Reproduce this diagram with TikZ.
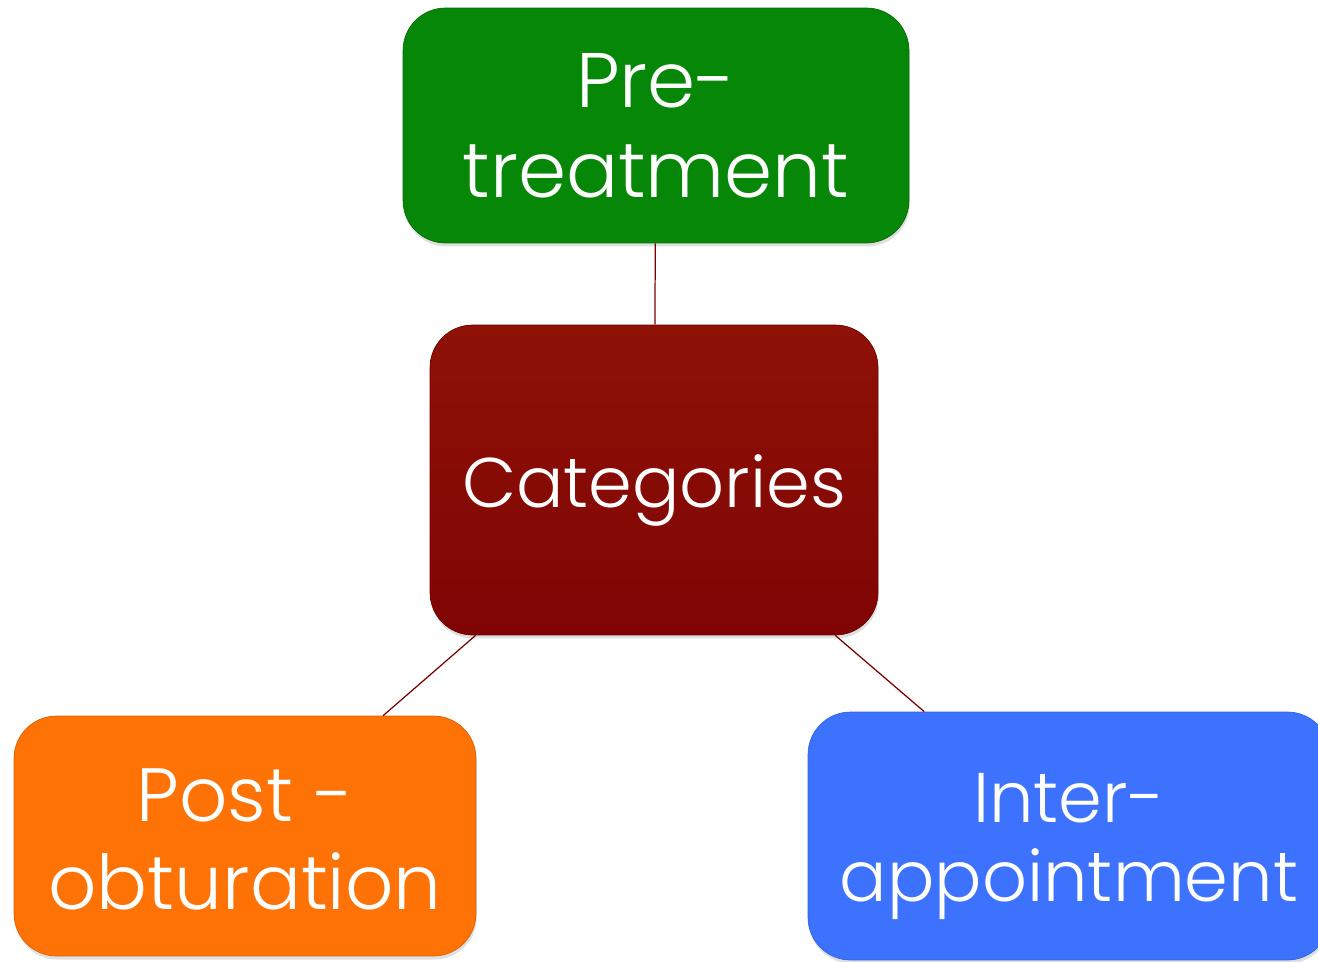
\documentclass[tikz,border=0pt]{standalone}
\usepackage{fontspec}
\setmainfont{Poppins}[UprightFont=* Light]
\usepackage{tikz}
\usetikzlibrary{shadows}
\definecolor{pregreen}{HTML}{078707}
\definecolor{catred}{HTML}{8E1206}
\definecolor{catreddark}{HTML}{800404}
\definecolor{postorange}{HTML}{FF7205}
\definecolor{interblue}{HTML}{3D72FF}
\definecolor{linkred}{HTML}{760000}
\tikzset{
every picture/.style={line width=0.8pt},
%%%%%%%%%%  Node styles
catbox/.style={rectangle, rounded corners=0.85cm, align=center, text=white,
               inner sep=0pt,
               drop shadow={opacity=0.25, shadow xshift=0.5pt, shadow yshift=-2pt}},
%%%%%%% connector style
link/.style={draw=linkred, line width=0.7pt}
}

\begin{document}
\begin{tikzpicture}[x=0.02cm, y=-0.02cm]
\useasboundingbox (0,0) rectangle (1318,961);
%% the four boxes
\node[catbox, fill=pregreen, draw=pregreen!80!black, thin, font=\fontsize{44}{51}\selectfont,
      minimum width=10.12cm, minimum height=4.7cm] (pre) at (656,125.5) {Pre-\\treatment};
\node[catbox, top color=catred, bottom color=catreddark, draw=catreddark!85!black, thin,
      font=\fontsize{40}{48}\selectfont,
      minimum width=8.96cm, minimum height=6.2cm] (cat) at (654,480)
      {\raisebox{-0.54cm}[0pt][0pt]{Categories}};
\node[catbox, fill=postorange, draw=postorange!85!black, thin, font=\fontsize{43}{50}\selectfont,
      minimum width=9.24cm, minimum height=4.8cm] (post) at (245,836)
      {\rule{0pt}{34pt}Post -\\obturation};
\node[catbox, fill=interblue, draw=interblue!85!black, thin, font=\fontsize{40}{45}\selectfont,
      minimum width=10.44cm, minimum height=4.96cm] (inter) at (1069,836)
      {\rule{0pt}{40pt}Inter-\\appointment};
%% connectors between boxes
\draw[link] (pre) -- (cat);
\draw[link] (cat) -- (post);
\draw[link] (cat) -- (inter);
\end{tikzpicture}
\end{document}
